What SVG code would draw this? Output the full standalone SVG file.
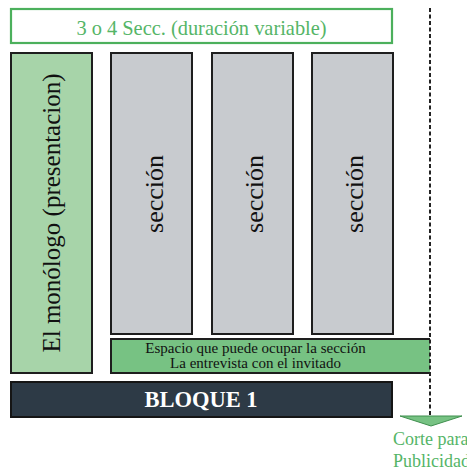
<svg xmlns="http://www.w3.org/2000/svg" width="467" height="470" viewBox="0 0 467 470">
<style>
.box{stroke:#1e1e1e;stroke-width:2}
.sec{fill:#c8cbcf}
text{font-family:'Liberation Serif','DejaVu Serif',serif}
.gtxt{fill:#55b567}
.sectxt{font-size:26px;fill:#111;text-anchor:middle}
</style>
<rect width="467" height="470" fill="#ffffff"/>
<g id="header">
<rect x="11" y="9" width="381" height="34" fill="#ffffff" stroke="#4cb05c" stroke-width="2.2"/>
<text class="gtxt" x="201.5" y="34.5" font-size="20.4" text-anchor="middle" font-family="Liberation Serif, serif">3 o 4 Secc. (duración variable)</text>
</g>
<g id="monologo">
<rect class="box" x="11" y="53" width="81" height="320" fill="#a7d4a9"/>
<text transform="translate(60,213) rotate(-90)" font-size="25" fill="#111" text-anchor="middle" font-family="Liberation Serif, serif">El monólogo (presentacion)</text>
</g>
<g id="seccion1">
<rect class="box sec" x="111" y="53" width="81" height="281"/>
<text class="sectxt" transform="translate(163,194) rotate(-90)" font-family="Liberation Serif, serif">sección</text>
</g>
<g id="seccion2">
<rect class="box sec" x="212" y="53" width="81" height="281"/>
<text class="sectxt" transform="translate(263,194) rotate(-90)" font-family="Liberation Serif, serif">sección</text>
</g>
<g id="seccion3">
<rect class="box sec" x="312" y="53" width="81" height="281"/>
<text class="sectxt" transform="translate(363,194) rotate(-90)" font-family="Liberation Serif, serif">sección</text>
</g>
<g id="espacio">
<rect x="111" y="339" width="319" height="34" fill="#77c283"/>
<path d="M430,339 H111 V373 H430" fill="none" stroke="#1e1e1e" stroke-width="2"/>
<text x="255.5" y="353" font-size="15" fill="#111" text-anchor="middle" font-family="Liberation Serif, serif">Espacio que puede ocupar la sección</text>
<text x="255.5" y="368" font-size="15" fill="#111" text-anchor="middle" font-family="Liberation Serif, serif">La entrevista con el invitado</text>
</g>
<g id="bloque">
<rect x="11" y="382" width="381" height="35" fill="#2d3a46" stroke="#151515" stroke-width="2"/>
<text x="201" y="407" font-size="22.5" font-weight="bold" fill="#ffffff" text-anchor="middle" font-family="Liberation Serif, serif">BLOQUE 1</text>
</g>
<g id="corte">
<polygon points="400,416 462,416 431,426" fill="#77c283" stroke="#3f8f4e" stroke-width="1"/>
<text class="gtxt" x="393" y="445" font-size="18" font-family="Liberation Serif, serif">Corte para</text>
<text class="gtxt" x="393" y="467" font-size="18" font-family="Liberation Serif, serif">Publicidad</text>
</g>
<g id="connectors">
<line x1="430" y1="8" x2="430" y2="415" stroke="#222" stroke-width="2" stroke-dasharray="4,2.5"/>
</g>
</svg>
